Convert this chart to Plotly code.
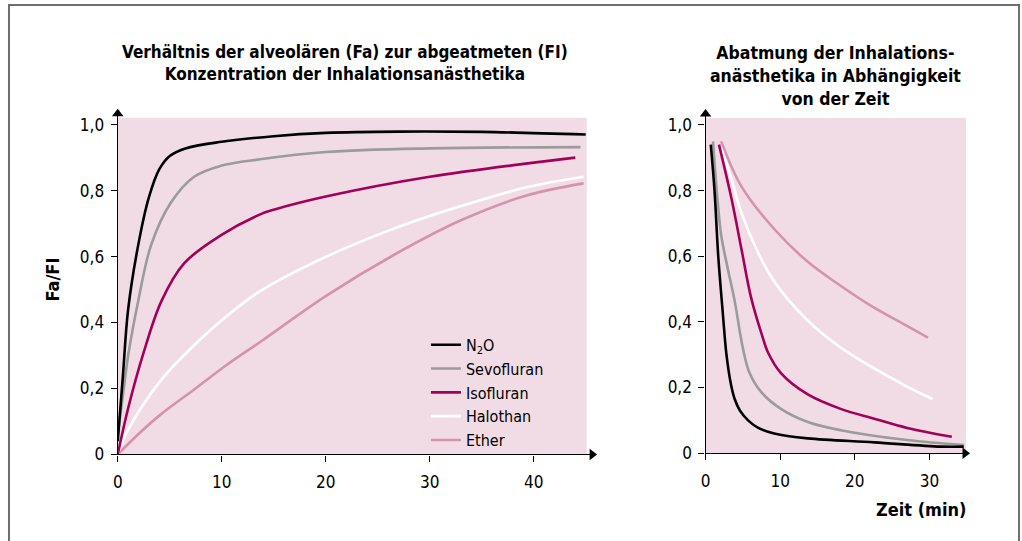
import plotly.graph_objects as go

# ---------------- data ----------------
names = ["N<sub>2</sub>O", "Sevofluran", "Isofluran", "Halothan", "Ether"]
colors = ["#000000", "#9b9b9b", "#a3005a", "#ffffff", "#d492ad"]

# left panel: Fa/FI vs time (min)
n2o_x = [0, 0.5, 1, 2, 3, 4, 5, 6.5, 10, 15, 20, 27, 35, 45]
n2o_y = [0.04, 0.24, 0.44, 0.64, 0.78, 0.865, 0.905, 0.928, 0.948, 0.965, 0.975, 0.979, 0.978, 0.97]
sevo_x = [0, 0.5, 1, 2, 3.2, 5.1, 7.35, 9.9, 13.7, 20, 30, 44.5]
sevo_y = [0.06, 0.18, 0.3, 0.47, 0.634, 0.763, 0.842, 0.875, 0.895, 0.917, 0.928, 0.932]
iso_x = [0, 1, 2.5, 4.2, 6.4, 9.9, 13.7, 15, 20, 30, 44]
iso_y = [0, 0.14, 0.31, 0.465, 0.58, 0.664, 0.728, 0.742, 0.782, 0.842, 0.9]
halo_x = [0, 1, 4.2, 7.35, 10.5, 13.7, 20, 26.5, 33, 39.3, 44.8]
halo_y = [0, 0.075, 0.227, 0.331, 0.42, 0.495, 0.599, 0.684, 0.753, 0.81, 0.842]
ether_x = [0, 2, 4.2, 7.35, 10.5, 13.7, 20, 26.5, 33, 39.3, 44.8]
ether_y = [0, 0.062, 0.123, 0.197, 0.272, 0.341, 0.48, 0.604, 0.71, 0.785, 0.822]

# right panel: washout vs time (min)
n2o_wx = [0.7, 1.2, 1.7, 2.3, 2.8, 3.4, 3.9, 4.6, 5.7, 7, 9.2, 13.7, 22.6, 31.5, 34.6]
n2o_wy = [0.94, 0.8, 0.6, 0.43, 0.3, 0.21, 0.165, 0.13, 0.1, 0.078, 0.06, 0.045, 0.033, 0.02, 0.02]
sevo_wx = [1.0, 1.5, 2.1, 3.0, 3.9, 5.0, 5.9, 7.5, 10.1, 13.7, 18.1, 27, 34.6]
sevo_wy = [0.95, 0.8, 0.663, 0.56, 0.464, 0.32, 0.244, 0.185, 0.135, 0.095, 0.07, 0.04, 0.025]
iso_wx = [1.8, 3.5, 4.8, 6.1, 7.5, 8.4, 10.1, 13.7, 18.1, 22.6, 27, 33.0]
iso_wy = [0.94, 0.773, 0.623, 0.474, 0.364, 0.305, 0.244, 0.179, 0.135, 0.105, 0.077, 0.05]
halo_wx = [2.1, 3.5, 4.8, 7.0, 9.2, 13.7, 18.1, 22.6, 27, 30.4]
halo_wy = [0.93, 0.833, 0.733, 0.613, 0.523, 0.404, 0.322, 0.258, 0.203, 0.165]
ether_wx = [2.1, 4.8, 9.2, 13.7, 17.9, 22.3, 26.8, 29.8]
ether_wy = [0.95, 0.813, 0.683, 0.583, 0.513, 0.447, 0.39, 0.352]

y_tickvals = [0, 0.2, 0.4, 0.6, 0.8, 1.0]
y_ticktext = ["0", "0,2", "0,4", "0,6", "0,8", "1,0"]
left_xticks = [0, 10, 20, 30, 40]
right_xticks = [0, 10, 20, 30]

left_title = "Verhältnis der alveolären (Fa) zur abgeatmeten (FI)<br>Konzentration der Inhalationsanästhetika"
right_title = "Abatmung der Inhalations-<br>anästhetika in Abhängigkeit<br>von der Zeit"
y_title = "Fa/FI"
x_title_right = "Zeit (min)"

# ---------------- figure ----------------
W, H = 1022, 541
FONT = "DejaVu Sans Condensed, Roboto, Liberation Sans, sans-serif"
PINK = "#f1dce5"

left = [(n2o_x, n2o_y), (sevo_x, sevo_y), (iso_x, iso_y), (halo_x, halo_y), (ether_x, ether_y)]
right = [(n2o_wx, n2o_wy), (sevo_wx, sevo_wy), (iso_wx, iso_wy), (halo_wx, halo_wy), (ether_wx, ether_wy)]

fig = go.Figure()
order = [4, 3, 2, 1, 0]
for i in order:
    xs, ys = left[i]
    fig.add_trace(go.Scatter(x=xs, y=ys, mode="lines", name=names[i],
                             line=dict(color=colors[i], width=2.6, shape="spline", smoothing=1.0),
                             legendrank=i + 1,
                             xaxis="x", yaxis="y", hoverinfo="skip"))
for i in order:
    xs, ys = right[i]
    fig.add_trace(go.Scatter(x=xs, y=ys, mode="lines", name=names[i],
                             line=dict(color=colors[i], width=2.6, shape="spline", smoothing=1.0),
                             showlegend=False,
                             xaxis="x2", yaxis="y2", hoverinfo="skip"))

def px(x):
    return x / W

def py(y):
    return (H - y) / H

L_x0, L_unit = 113.3, 10.45
L_xmax = 46.0
L_y0, L_yunit = 463.0, 336.0
Y_MAX = 1.045
R_x0, R_unit = 704.0, 7.5
R_xmax = 35.3
R_y0, R_yunit = 461.7, 334.4

axis_common = dict(showgrid=False, zeroline=False, showline=True, linecolor="#000", linewidth=1.4,
                   ticks="outside", ticklen=6, tickwidth=1.3, tickcolor="#000",
                   tickfont=dict(family=FONT, size=17, color="#000"))
x_common = dict(axis_common, ticklabelstandoff=6)
y_common = dict(axis_common, ticklabelstandoff=3)

fig.update_layout(
    width=W, height=H,
    margin=dict(l=0, r=0, t=0, b=0),
    paper_bgcolor="white", plot_bgcolor="rgba(0,0,0,0)",
    showlegend=True,
    legend=dict(x=px(423), y=py(334), xanchor="left", yanchor="top",
                bgcolor="rgba(0,0,0,0)", font=dict(family=FONT, size=16, color="#000"),
                tracegroupgap=0, itemwidth=30, traceorder="normal"),
    xaxis=dict(domain=[px(L_x0), px(L_x0 + L_xmax * L_unit)], range=[0, L_xmax],
               tickvals=left_xticks, ticktext=[str(v) for v in left_xticks], anchor="y", **x_common),
    yaxis=dict(domain=[py(L_y0), py(L_y0 - Y_MAX * L_yunit)], range=[0, Y_MAX],
               tickvals=y_tickvals, ticktext=y_ticktext, anchor="x", **y_common),
    xaxis2=dict(domain=[px(R_x0), px(R_x0 + R_xmax * R_unit)], range=[0, R_xmax],
                tickvals=right_xticks, ticktext=[str(v) for v in right_xticks], anchor="y2", **x_common),
    yaxis2=dict(domain=[py(R_y0), py(R_y0 - Y_MAX * R_yunit)], range=[0, Y_MAX],
                tickvals=y_tickvals, ticktext=y_ticktext, anchor="x2", **y_common),
)

fig.add_shape(type="rect", xref="x", yref="y", x0=0, x1=45.1, y0=0, y1=1.021,
              fillcolor=PINK, line=dict(width=0), layer="below")
fig.add_shape(type="rect", xref="x2", yref="y2", x0=0, x1=34.9, y0=0, y1=1.021,
              fillcolor=PINK, line=dict(width=0), layer="below")

# arrowheads at the ends of the axes
AH = 4.0
for xa, ya, xmax, xunit, yunit in [("x", "y", L_xmax, L_unit, L_yunit), ("x2", "y2", R_xmax, R_unit, R_yunit)]:
    fig.add_trace(go.Scatter(x=[xmax - AH / xunit], y=[0], mode="markers", showlegend=False,
                             marker=dict(symbol="triangle-right", size=10, color="#000"),
                             cliponaxis=False, xaxis=xa, yaxis=ya, hoverinfo="skip"))
    fig.add_trace(go.Scatter(x=[0], y=[Y_MAX - AH / yunit], mode="markers", showlegend=False,
                             marker=dict(symbol="triangle-up", size=10, color="#000"),
                             cliponaxis=False, xaxis=xa, yaxis=ya, hoverinfo="skip"))

fig.add_annotation(x=px(342), y=py(64), xref="paper", yref="paper",
                   text="<b>" + left_title.replace("<br>", "</b><br><b>") + "</b>",
                   showarrow=False, font=dict(family=FONT, size=17, color="#000"),
                   align="center", xanchor="center", yanchor="middle")
fig.add_annotation(x=px(835), y=py(77), xref="paper", yref="paper",
                   text="<b>" + right_title.replace("<br>", "</b><br><b>") + "</b>",
                   showarrow=False, font=dict(family=FONT, size=17.5, color="#000"),
                   align="center", xanchor="center", yanchor="middle")
fig.add_annotation(x=px(48), y=py(285), xref="paper", yref="paper", text="<b>" + y_title + "</b>",
                   showarrow=False, font=dict(family=FONT, size=18, color="#000"),
                   textangle=-90, xanchor="center", yanchor="middle")
fig.add_annotation(x=px(921), y=py(519), xref="paper", yref="paper", text="<b>" + x_title_right + "</b>",
                   showarrow=False, font=dict(family=FONT, size=18, color="#000"),
                   xanchor="center", yanchor="middle")

fig.add_shape(type="rect", xref="paper", yref="paper", x0=px(4), x1=px(1019), y0=-0.05, y1=py(5),
              line=dict(color="#6e6e6e", width=2), fillcolor="rgba(0,0,0,0)", layer="above")

fig.write_html("out.html", config={"displayModeBar": False},
               post_script="document.body.style.margin='0';document.body.style.overflow='hidden';")
